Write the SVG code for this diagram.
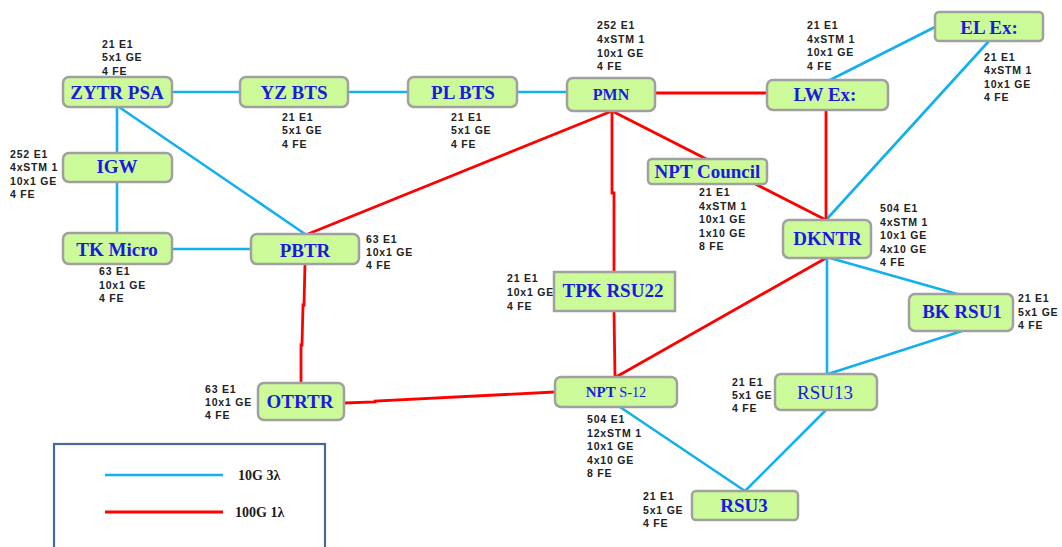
<svg xmlns="http://www.w3.org/2000/svg" width="1062" height="547" viewBox="0 0 1062 547">
<style>
.n{fill:#ccfa99;stroke:#a0a0a0;stroke-width:2.5}
.t{font-family:"Liberation Serif",serif;font-weight:bold;font-size:19px;fill:#1a1ae0;text-anchor:middle}
.r{font-weight:normal}
.l{font-family:"Liberation Sans",Arial,sans-serif;font-weight:bold;font-size:10.5px;fill:#222;letter-spacing:0.8px}
.b{stroke:#12b0ec;stroke-width:2.6;fill:none}
.d{stroke:#ff0000;stroke-width:2.8;fill:none}
.lg{font-family:"Liberation Serif",serif;font-weight:bold;font-size:14px;fill:#1a1a1a}
</style>
<rect width="1062" height="547" fill="#fff"/>
<g id="connectors">
<line class="b" x1="172" y1="92" x2="240" y2="92"/>
<line class="b" x1="348" y1="92" x2="408" y2="92"/>
<line class="b" x1="517" y1="92" x2="567" y2="92"/>
<line class="b" x1="117" y1="107" x2="117" y2="153"/>
<line class="b" x1="117" y1="182" x2="117" y2="233"/>
<line class="b" x1="119" y1="107" x2="305" y2="234"/>
<line class="b" x1="172" y1="249" x2="251" y2="249"/>
<line class="b" x1="830" y1="80" x2="935" y2="27"/>
<line class="b" x1="989" y1="41" x2="826" y2="220"/>
<line class="b" x1="827" y1="258" x2="827" y2="374"/>
<line class="b" x1="830" y1="258" x2="957" y2="294"/>
<line class="b" x1="962" y1="331" x2="828" y2="374"/>
<line class="b" x1="826" y1="410" x2="745" y2="491"/>
<line class="b" x1="620" y1="407" x2="745" y2="491"/>
<line class="d" x1="655" y1="93" x2="767" y2="93"/>
<line class="d" x1="612" y1="111" x2="308" y2="234"/>
<polyline class="d" points="612,111 612,193 614,193 614,272"/>
<line class="d" x1="612" y1="111" x2="826" y2="220"/>
<line class="d" x1="826" y1="110" x2="826" y2="220"/>
<polyline class="d" points="305,264 304,305 303,305 302,345 301,345 301,383"/>
<polyline class="d" points="344,403 375,402 375,401 555,392"/>
<line class="d" x1="614" y1="311" x2="615" y2="377"/>
<line class="d" x1="826" y1="258" x2="616" y2="377"/>
</g>
<g id="labels">
<text class="l" x="102" y="48">21 E1<tspan x="102" dy="13.4">5x1 GE</tspan><tspan x="102" dy="13.4">4 FE</tspan></text>
<text class="l" x="282" y="121">21 E1<tspan x="282" dy="13.4">5x1 GE</tspan><tspan x="282" dy="13.4">4 FE</tspan></text>
<text class="l" x="451" y="121">21 E1<tspan x="451" dy="13.4">5x1 GE</tspan><tspan x="451" dy="13.4">4 FE</tspan></text>
<text class="l" x="10" y="158">252 E1<tspan x="10" dy="13.4">4xSTM 1</tspan><tspan x="10" dy="13.4">10x1 GE</tspan><tspan x="10" dy="13.4">4 FE</tspan></text>
<text class="l" x="597" y="29">252 E1<tspan x="597" dy="13.8">4xSTM 1</tspan><tspan x="597" dy="13.8">10x1 GE</tspan><tspan x="597" dy="13.8">4 FE</tspan></text>
<text class="l" x="807" y="29">21 E1<tspan x="807" dy="13.6">4xSTM 1</tspan><tspan x="807" dy="13.6">10x1 GE</tspan><tspan x="807" dy="13.6">4 FE</tspan></text>
<text class="l" x="984" y="61">21 E1<tspan x="984" dy="13.4">4xSTM 1</tspan><tspan x="984" dy="13.4">10x1 GE</tspan><tspan x="984" dy="13.4">4 FE</tspan></text>
<text class="l" x="699" y="196">21 E1<tspan x="699" dy="13.5">4xSTM 1</tspan><tspan x="699" dy="13.5">10x1 GE</tspan><tspan x="699" dy="13.5">1x10 GE</tspan><tspan x="699" dy="13.5">8 FE</tspan></text>
<text class="l" x="507" y="282">21 E1<tspan x="507" dy="13.8">10x1 GE</tspan><tspan x="507" dy="13.8">4 FE</tspan></text>
<text class="l" x="880" y="212">504 E1<tspan x="880" dy="13.6">4xSTM 1</tspan><tspan x="880" dy="13.6">10x1 GE</tspan><tspan x="880" dy="13.6">4x10 GE</tspan><tspan x="880" dy="13.6">4 FE</tspan></text>
<text class="l" x="1018" y="302">21 E1<tspan x="1018" dy="13.5">5x1 GE</tspan><tspan x="1018" dy="13.5">4 FE</tspan></text>
<text class="l" x="732" y="386">21 E1<tspan x="732" dy="13">5x1 GE</tspan><tspan x="732" dy="13">4 FE</tspan></text>
<text class="l" x="587" y="423">504 E1<tspan x="587" dy="13.5">12xSTM 1</tspan><tspan x="587" dy="13.5">10x1 GE</tspan><tspan x="587" dy="13.5">4x10 GE</tspan><tspan x="587" dy="13.5">8 FE</tspan></text>
<text class="l" x="643" y="500">21 E1<tspan x="643" dy="13.5">5x1 GE</tspan><tspan x="643" dy="13.5">4 FE</tspan></text>
<text class="l" x="99" y="275">63 E1<tspan x="99" dy="13.5">10x1 GE</tspan><tspan x="99" dy="13.5">4 FE</tspan></text>
<text class="l" x="366" y="243">63 E1<tspan x="366" dy="13">10x1 GE</tspan><tspan x="366" dy="13">4 FE</tspan></text>
<text class="l" x="205" y="393">63 E1<tspan x="205" dy="13">10x1 GE</tspan><tspan x="205" dy="13">4 FE</tspan></text>
</g>
<g id="ZYTR_PSA"><rect class="n" x="63" y="77" width="109" height="30" rx="6"/><text class="t" x="117" y="98.5">ZYTR PSA</text></g>
<g id="YZ_BTS"><rect class="n" x="240" y="77" width="108" height="30" rx="6"/><text class="t" x="294" y="98.5">YZ BTS</text></g>
<g id="PL_BTS"><rect class="n" x="408" y="77" width="109" height="30" rx="6"/><text class="t" x="463" y="98.5">PL BTS</text></g>
<g id="PMN"><rect class="n" x="567" y="78" width="88" height="33" rx="6"/><text class="t" x="611" y="100" style="font-size:16px">PMN</text></g>
<g id="LW_Ex"><rect class="n" x="767" y="80" width="121" height="30" rx="6"/><text class="t" x="825" y="101">LW Ex:</text></g>
<g id="EL_Ex"><rect class="n" x="935" y="12" width="108" height="29" rx="4"/><text class="t" x="989" y="34">EL Ex:</text></g>
<g id="IGW"><rect class="n" x="63" y="153" width="109" height="29" rx="6"/><text class="t" x="117" y="173">IGW</text></g>
<g id="TK_Micro"><rect class="n" x="63" y="233" width="109" height="31" rx="6"/><text class="t" x="117" y="256">TK Micro</text></g>
<g id="PBTR"><rect class="n" x="251" y="234" width="108" height="30" rx="6"/><text class="t" x="305" y="257">PBTR</text></g>
<g id="OTRTR"><rect class="n" x="258" y="383" width="86" height="37" rx="6"/><text class="t" x="300" y="408">OTRTR</text></g>
<g id="NPT_Council"><rect class="n" x="648" y="159" width="119" height="25" rx="4"/><text class="t" x="707.5" y="178">NPT Council</text></g>
<g id="TPK_RSU22"><rect class="n" x="554" y="272" width="121" height="39"/><text class="t" x="613" y="297">TPK RSU22</text></g>
<g id="DKNTR"><rect class="n" x="783" y="220" width="88" height="38" rx="6"/><text class="t" x="827.5" y="245">DKNTR</text></g>
<g id="BK_RSU1"><rect class="n" x="909" y="294" width="104" height="37" rx="6"/><text class="t" x="962" y="318">BK RSU1</text></g>
<g id="RSU13"><rect class="n" x="775" y="374" width="102" height="36" rx="6"/><text class="t r" x="825" y="399">RSU13</text></g>
<g id="NPT_S-12"><rect class="n" x="555" y="377" width="122" height="30" rx="6"/><text class="t" x="616" y="397" style="font-size:15px">NPT <tspan class="r" style="font-size:14.3px">S-12</tspan></text></g>
<g id="RSU3"><rect class="n" x="692" y="491" width="106" height="29" rx="4"/><text class="t" x="744" y="512">RSU3</text></g>
<g id="legend">
<rect x="54" y="444" width="271" height="110" fill="none" stroke="#4a6895" stroke-width="2.2"/>
<line class="b" x1="105" y1="475" x2="223" y2="475"/>
<line class="d" x1="105" y1="512" x2="223" y2="512"/>
<text class="lg" x="238" y="480">10G 3λ</text>
<text class="lg" x="235" y="517">100G 1λ</text>
</g>
</svg>
